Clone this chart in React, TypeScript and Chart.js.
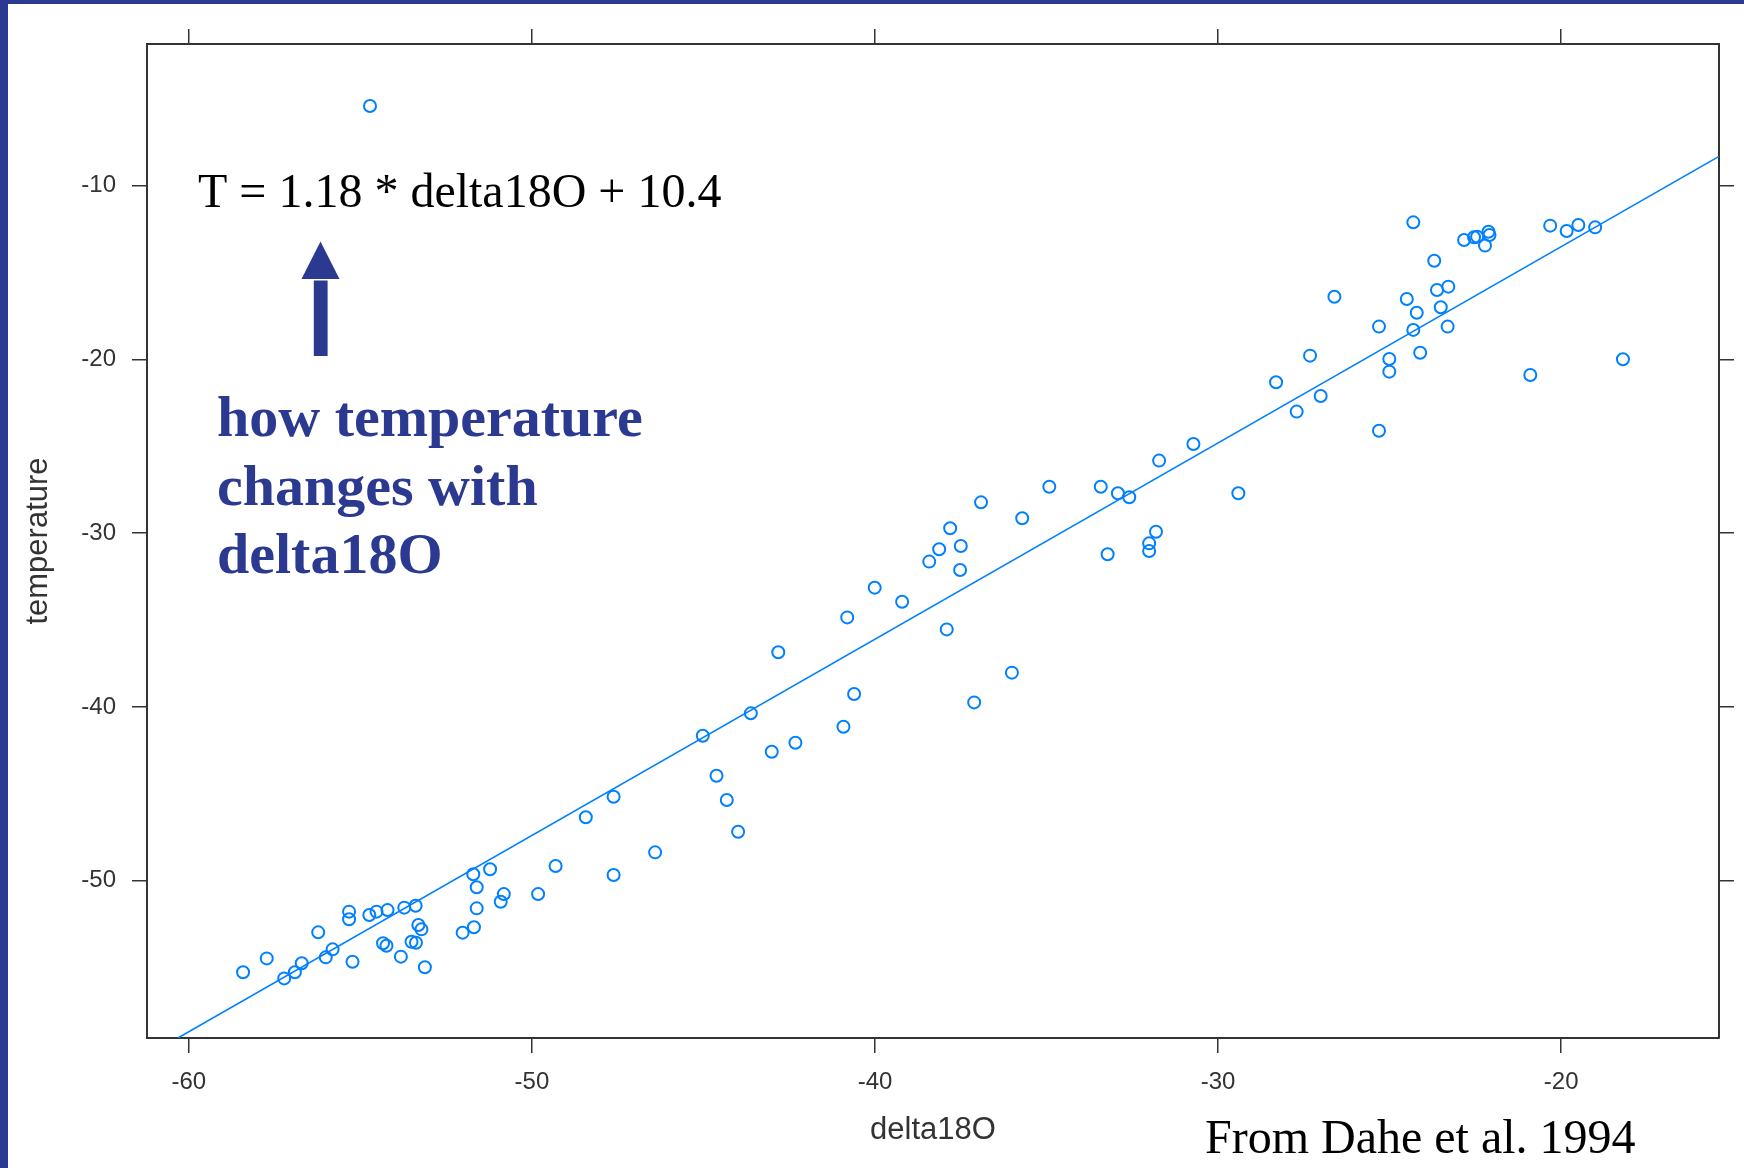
import React, { useEffect, useRef } from 'react';
import { Chart, registerables } from 'chart.js';

Chart.register(...registerables);

// ---- data ----
const delta18O = [
  -58.42, -57.73, -57.22, -56.91, -56.71, -56.23, -56.01, -55.81, -55.23, -55.33,
  -55.33, -54.74, -54.53, -54.21, -54.34, -54.24, -53.82, -53.72, -53.39, -53.31,
  -53.22, -53.51, -53.38, -53.12, -52.02, -51.69, -51.71, -51.61, -51.61, -51.22,
  -50.91, -50.82, -49.82, -49.31, -48.43, -47.62, -47.62, -46.41, -44.62, -44.32,
  -43.99,
  -45.02, -43.62, -43.01, -42.32, -42.82, -40.92, -40.61, -40.81, -40.01, -39.21,
  -38.42, -37.52, -37.91, -37.11, -36.01,
  -38.13, -37.81, -37.5, -36.91, -35.71, -34.92, -33.42, -32.92, -32.59, -33.22,
  -31.81, -32.01, -32.01, -31.72, -30.72, -29.41,
  -28.31, -27.71, -27.01, -27.32, -26.61, -25.31, -25.31, -25.01, -25.01, -24.31,
  -24.5, -24.21, -24.31, -24.11, -23.7, -23.62, -23.29, -23.51, -23.31, -22.83,
  -22.54, -22.45, -22.22, -22.12, -22.09, -20.32, -19.84, -19.5, -19.01, -20.9,
  -18.2,
  -54.72,
];
const temperature = [
  -55.27, -54.47, -55.62, -55.27, -54.75, -52.97, -54.41, -53.95, -54.66, -51.78,
  -52.22, -51.97, -51.78, -51.69, -53.6, -53.74, -54.37, -51.55, -51.44, -52.55,
  -52.8, -53.51, -53.57, -54.98, -52.99, -52.68, -49.63, -50.38, -51.59, -49.34,
  -51.21, -50.77, -50.77, -49.15, -46.35, -45.17, -49.67, -48.37, -43.96, -45.36,
  -47.18,
  -41.66, -40.37, -42.58, -42.06, -36.86, -41.14, -39.26, -34.85, -33.14, -33.95,
  -31.64, -32.12, -35.54, -39.74, -38.03,
  -30.93, -29.72, -30.74, -28.23, -29.15, -27.33, -27.33, -27.71, -27.94, -31.22,
  -29.92, -30.59, -31.03, -25.83, -24.87, -27.71,
  -21.32, -23.01, -22.11, -19.79, -16.4, -24.11, -18.12, -19.98, -20.71, -12.12,
  -16.53, -17.32, -18.31, -19.62, -14.33, -16.01, -15.82, -17.01, -18.12, -13.14,
  -12.98, -12.95, -13.46, -12.66, -12.85, -12.31, -12.62, -12.27, -12.41, -20.9,
  -20.0,
  -5.43,
];
// fitted line, read where it meets the frame
const fitLineX = [-60.32, -15.4];
const fitLineY = [-59.05, -8.33];

const xTicks = [-60, -50, -40, -30, -20];
const yTicks = [-10, -20, -30, -40, -50];
const xRange = [-61.22, -15.4];
const yRange = [-59.05, -1.86];

const xTitle = 'delta18O';
const yTitle = 'temperature';
const equationText = 'T = 1.18 * delta18O + 10.4';
const noteLines = ['how temperature', 'changes with', 'delta18O'];
const sourceText = 'From Dahe et al. 1994';

const NAVY = '#2B3990';
const POINT_BLUE = '#0080ff';
const FRAME = '#333333';

export default function App() {
  const ref = useRef<HTMLCanvasElement | null>(null);

  useEffect(() => {
    const canvas = ref.current;
    if (!canvas) return;

    const points = delta18O.map((x, i) => ({ x, y: temperature[i] }));
    const line = fitLineX.map((x, i) => ({ x, y: fitLineY[i] }));

    const setTicks = (vals: number[]) => (scale: any) => {
      scale.ticks = vals.map((v) => ({ value: v }));
    };
    const grid = {
      drawOnChartArea: false,
      drawTicks: true,
      tickLength: 15,
      color: FRAME,
      lineWidth: 1.5,
    };
    const border = { display: true, color: FRAME, width: 2 };
    const tickFont = { family: '"Liberation Sans", Arial, sans-serif', size: 24 };
    const titleFont = { family: '"Liberation Sans", Arial, sans-serif', size: 31 };

    const decor = {
      id: 'decor',
      beforeDraw(chart: any) {
        const ctx = chart.ctx;
        ctx.save();
        ctx.fillStyle = '#ffffff';
        ctx.fillRect(0, 0, chart.width, chart.height);
        ctx.fillStyle = NAVY;
        ctx.fillRect(0, 0, 8, chart.height);
        ctx.fillRect(0, 0, chart.width, 4);
        ctx.restore();
      },
      afterDraw(chart: any) {
        const ctx = chart.ctx;
        ctx.save();
        ctx.textBaseline = 'alphabetic';
        ctx.textAlign = 'left';
        // equation
        ctx.fillStyle = '#000000';
        ctx.font = '48px "Liberation Serif", "Times New Roman", serif';
        ctx.fillText(equationText, 198, 207);
        // source
        ctx.fillText(sourceText, 1205, 1153);
        // arrow
        ctx.fillStyle = NAVY;
        ctx.beginPath();
        ctx.moveTo(320.5, 241.5);
        ctx.lineTo(301.5, 279);
        ctx.lineTo(339.5, 279);
        ctx.closePath();
        ctx.fill();
        ctx.fillRect(313.8, 280.5, 13.8, 75.5);
        // note
        ctx.font = 'bold 58px "Liberation Serif", "Times New Roman", serif';
        const baselines = [436, 505, 573];
        noteLines.forEach((t, i) => ctx.fillText(t, 217, baselines[i]));
        ctx.restore();
      },
    };

    const chart = new Chart(canvas, {
      type: 'scatter',
      data: {
        datasets: [
          {
            type: 'scatter',
            data: points,
            pointStyle: 'circle',
            pointRadius: 6,
            pointBorderWidth: 2,
            pointBorderColor: POINT_BLUE,
            pointBackgroundColor: 'rgba(0,0,0,0)',
            xAxisID: 'x',
            yAxisID: 'y',
          } as any,
          {
            type: 'line',
            data: line,
            showLine: true,
            fill: false,
            borderColor: POINT_BLUE,
            borderWidth: 1.6,
            pointRadius: 0,
            xAxisID: 'x',
            yAxisID: 'y',
          } as any,
        ],
      },
      options: {
        animation: false,
        responsive: false,
        devicePixelRatio: 1,
        events: [],
        layout: { padding: 0 },
        plugins: {
          legend: { display: false },
          tooltip: { enabled: false },
        },
        scales: {
          x: {
            type: 'linear',
            position: 'bottom',
            min: xRange[0],
            max: xRange[1],
            afterBuildTicks: setTicks(xTicks),
            afterFit: (s: any) => { s.height = 130; },
            grid,
            border,
            ticks: { font: tickFont, color: FRAME, padding: 15, maxRotation: 0, autoSkip: false },
            title: { display: true, text: xTitle, font: titleFont, color: FRAME, padding: { top: 0, bottom: 19 } },
          },
          xTop: {
            type: 'linear',
            position: 'top',
            min: xRange[0],
            max: xRange[1],
            afterBuildTicks: setTicks(xTicks),
            afterFit: (s: any) => { s.height = 44; },
            grid,
            border,
            ticks: { display: false },
          },
          y: {
            type: 'linear',
            position: 'left',
            min: yRange[0],
            max: yRange[1],
            afterBuildTicks: setTicks(yTicks),
            afterFit: (s: any) => { s.width = 147; },
            grid,
            border,
            ticks: { font: tickFont, color: FRAME, padding: 16, autoSkip: false },
            title: { display: true, text: yTitle, font: titleFont, color: FRAME, padding: { top: 20, bottom: 0 } },
          },
          yRight: {
            type: 'linear',
            position: 'right',
            min: yRange[0],
            max: yRange[1],
            afterBuildTicks: setTicks(yTicks),
            afterFit: (s: any) => { s.width = 25; },
            grid,
            border,
            ticks: { display: false },
          },
        },
      } as any,
      plugins: [decor],
    });

    return () => {
      chart.destroy();
    };
  }, []);

  return (
    <div style={{ position: 'absolute', left: 0, top: 0, width: 1744, height: 1168, background: '#fff' }}>
      <canvas ref={ref} width={1744} height={1168} style={{ display: 'block', width: 1744, height: 1168 }} />
    </div>
  );
}
